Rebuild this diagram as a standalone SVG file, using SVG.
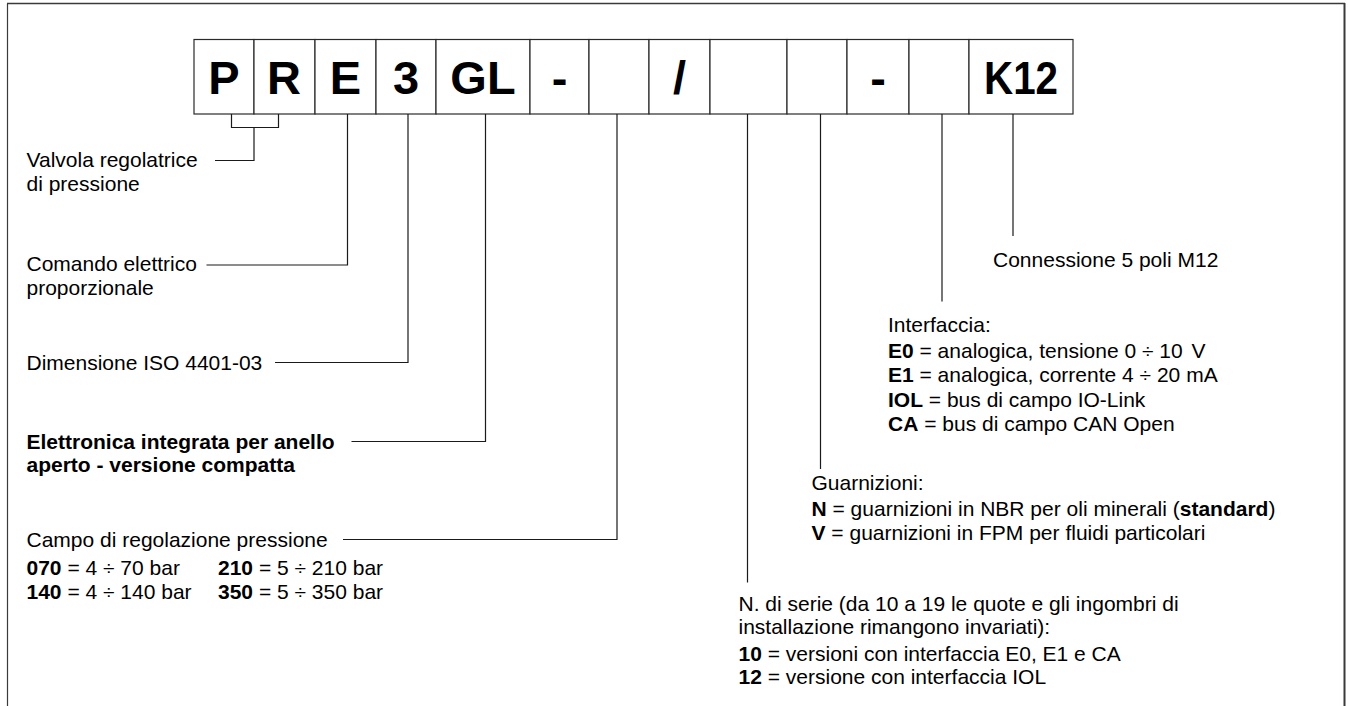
<svg xmlns="http://www.w3.org/2000/svg" width="1348" height="706" viewBox="0 0 1348 706">
<style>
.bg{fill:#fff}
.frame{fill:none;stroke:#3a3a3a}
.box rect{fill:#fff;stroke:#2a2a2a;stroke-width:1.2}
.box text{font-family:"Liberation Sans",Arial,sans-serif;font-weight:bold;font-size:47px;text-anchor:middle;fill:#000}
.conn path{fill:none;stroke:#1a1a1a;stroke-width:1.2}
.lbl{font-family:"Liberation Sans",Arial,sans-serif;font-size:21px;fill:#000}
.b{font-weight:bold}
</style>
<rect class="bg" x="0" y="0" width="1348" height="706"/>
<g id="frame">
<path class="frame" d="M7.5,706 V3.5" stroke-width="1.2"/>
<path class="frame" d="M7,3.5 H1345" stroke-width="1.6"/>
<path class="frame" d="M1344.5,3 V706" stroke-width="2"/>
</g>
<g id="code">
<g id="box-P" class="box"><rect x="194" y="39.5" width="60" height="74.5"/><text x="224" y="94">P</text></g>
<g id="box-R" class="box"><rect x="254" y="39.5" width="61" height="74.5"/><text x="284" y="94">R</text></g>
<g id="box-E" class="box"><rect x="315" y="39.5" width="61" height="74.5"/><text x="345.5" y="94">E</text></g>
<g id="box-3" class="box"><rect x="376" y="39.5" width="60" height="74.5"/><text x="406" y="94">3</text></g>
<g id="box-GL" class="box"><rect x="436" y="39.5" width="94" height="74.5"/><text x="483" y="94">GL</text></g>
<g id="box-dash1" class="box"><rect x="530" y="39.5" width="59" height="74.5"/><text x="559.5" y="94">-</text></g>
<g id="box-range" class="box"><rect x="589" y="39.5" width="60" height="74.5"/></g>
<g id="box-slash" class="box"><rect x="649" y="39.5" width="61" height="74.5"/><text x="679.5" y="94">/</text></g>
<g id="box-series" class="box"><rect x="710" y="39.5" width="77" height="74.5"/></g>
<g id="box-seals" class="box"><rect x="787" y="39.5" width="60" height="74.5"/></g>
<g id="box-dash2" class="box"><rect x="847" y="39.5" width="62" height="74.5"/><text x="878" y="94">-</text></g>
<g id="box-iface" class="box"><rect x="909" y="39.5" width="60" height="74.5"/></g>
<g id="box-K12" class="box"><rect x="969" y="39.5" width="104" height="74.5"/><text x="1021" y="94" textLength="74" lengthAdjust="spacingAndGlyphs">K12</text></g>
</g>
<g id="connectors" class="conn">
<path d="M231.5,114 V127.5 H278.5 V114"/>
<path d="M254,127.5 V160.5 H215"/>
<path d="M347.5,114 V265 H206.5"/>
<path d="M408,114 V362.5 H275"/>
<path d="M485.5,114 V441.5 H351.5"/>
<path d="M617,114 V539.5 H343"/>
<path d="M747.5,114 V582.5"/>
<path d="M820.5,114 V469"/>
<path d="M942,114 V301.5"/>
<path d="M1013,114 V236"/>
</g>
<g id="label-valvola">
<text class="lbl" x="26.5" y="166.5">Valvola regolatrice</text>
<text class="lbl" x="26.5" y="190.5">di pressione</text>
</g>
<g id="label-comando">
<text class="lbl" x="26.5" y="271">Comando elettrico</text>
<text class="lbl" x="26.5" y="294.5">proporzionale</text>
</g>
<g id="label-dimensione">
<text class="lbl" x="26.5" y="369.5">Dimensione ISO 4401-03</text>
</g>
<g id="label-elettronica">
<text class="lbl b" x="26.5" y="448.5">Elettronica integrata per anello</text>
<text class="lbl b" x="26.5" y="472">aperto - versione compatta</text>
</g>
<g id="label-campo">
<text class="lbl" x="26.5" y="546.5">Campo di regolazione pressione</text>
<text class="lbl" x="26.5" y="575"><tspan class="b">070</tspan> = 4 ÷ 70 bar</text>
<text class="lbl" x="218" y="575"><tspan class="b">210</tspan> = 5 ÷ 210 bar</text>
<text class="lbl" x="26.5" y="598.5"><tspan class="b">140</tspan> = 4 ÷ 140 bar</text>
<text class="lbl" x="218" y="598.5"><tspan class="b">350</tspan> = 5 ÷ 350 bar</text>
</g>
<g id="label-connessione">
<text class="lbl" x="993" y="266.5">Connessione 5 poli M12</text>
</g>
<g id="label-interfaccia">
<text class="lbl" x="888" y="331.5">Interfaccia:</text>
<text class="lbl" x="888" y="358"><tspan class="b">E0</tspan> = analogica, tensione 0 ÷ 10 <tspan dx="3">V</tspan></text>
<text class="lbl" x="888" y="382"><tspan class="b">E1</tspan> = analogica, corrente 4 ÷ 20 mA</text>
<text class="lbl" x="888" y="406.5"><tspan class="b">IOL</tspan> = bus di campo IO-Link</text>
<text class="lbl" x="888" y="430.5"><tspan class="b">CA</tspan> = bus di campo CAN Open</text>
</g>
<g id="label-guarnizioni">
<text class="lbl" x="811.5" y="490">Guarnizioni:</text>
<text class="lbl" x="811.5" y="516"><tspan class="b">N</tspan> = guarnizioni in NBR per oli minerali (<tspan class="b">standard</tspan>)</text>
<text class="lbl" x="811.5" y="540"><tspan class="b">V</tspan> = guarnizioni in FPM per fluidi particolari</text>
</g>
<g id="label-serie">
<text class="lbl" x="738.5" y="610.5">N. di serie (da 10 a 19 le quote e gli ingombri di</text>
<text class="lbl" x="738.5" y="634">installazione rimangono invariati):</text>
<text class="lbl" x="738.5" y="660.5"><tspan class="b">10</tspan> = versioni con interfaccia E0, E1 e CA</text>
<text class="lbl" x="738.5" y="684"><tspan class="b">12</tspan> = versione con interfaccia IOL</text>
</g>
</svg>
